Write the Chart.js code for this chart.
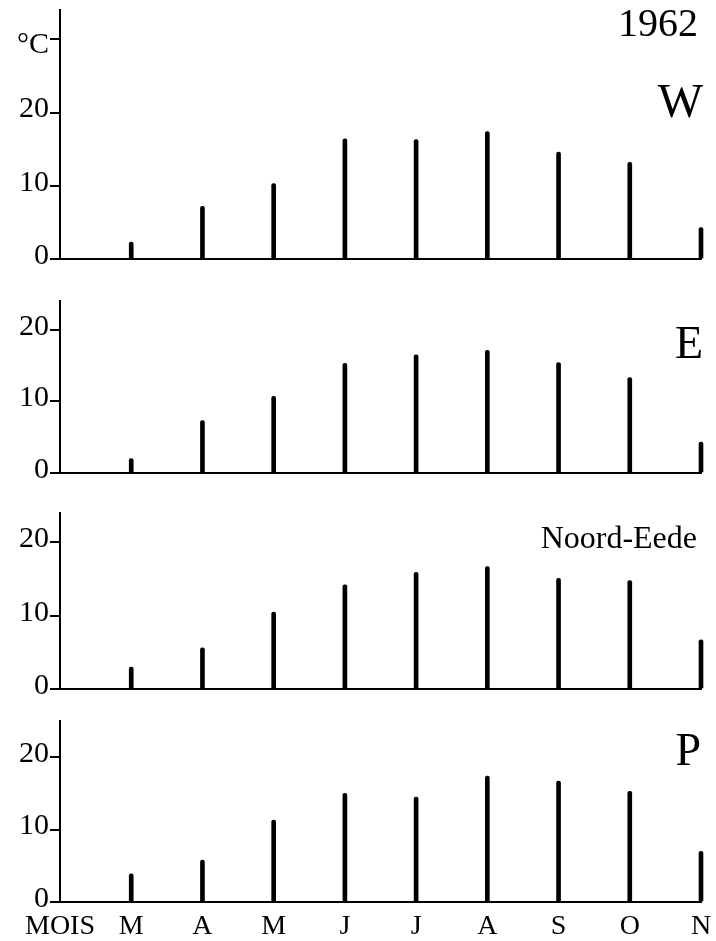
<!DOCTYPE html>
<html>
<head>
<meta charset="utf-8">
<script src="https://cdn.jsdelivr.net/npm/chart.js@4"></script>
<style>
  html, body { margin: 0; padding: 0; background: #fff; }
  #page { position: relative; width: 716px; height: 941px; overflow: hidden; }
  canvas { position: absolute; left: 0; }
</style>
</head>
<body>
<div id="page"></div>
<script>
// mois (premier libellé = origine de l'axe)
const MOIS = ["MOIS", "M", "A", "M", "J", "J", "A", "S", "O", "N"];
const ANNEE = "1962";
const STATIONS = ["W", "E", "Noord-Eede", "P"];

// températures moyennes mensuelles (°C)
const TEMP_W = [null, 2.3, 7.2, 10.3, 16.4, 16.3, 17.4, 14.6, 13.2, 4.3];
const TEMP_E = [null, 2.0, 7.3, 10.7, 15.3, 16.5, 17.1, 15.4, 13.3, 4.3];
const TEMP_NE = [null, 3.0, 5.6, 10.5, 14.2, 15.9, 16.7, 15.1, 14.8, 6.7];
const TEMP_P = [null, 3.9, 5.8, 11.3, 15.0, 14.5, 17.4, 16.7, 15.3, 7.0];

const Y_TICKS = [0, 10, 20];
const Y_TICKS_HAUT = [0, 10, 20, 30];
const Y_MAX = [34, 24, 24, 25];
const UNITE = "°C";

const FONT = '"Liberation Serif", "DejaVu Serif", serif';
const page = document.getElementById("page");

// zones de tracé (px) : haut, bas, police et position du nom
const panneaux = [
  { top: 10, bottom: 259, data: TEMP_W, nom: STATIONS[0], nomSize: 48, nomX: 703, nomY: 117, ticks: Y_TICKS_HAUT, max: Y_MAX[0] },
  { top: 301, bottom: 473, data: TEMP_E, nom: STATIONS[1], nomSize: 46, nomX: 703, nomY: 358, ticks: Y_TICKS, max: Y_MAX[1] },
  { top: 513, bottom: 689, data: TEMP_NE, nom: STATIONS[2], nomSize: 32, nomX: 697, nomY: 548, ticks: Y_TICKS, max: Y_MAX[2] },
  { top: 721, bottom: 902, data: TEMP_P, nom: STATIONS[3], nomSize: 46, nomX: 701, nomY: 765, ticks: Y_TICKS, max: Y_MAX[3] }
];

const textes = {
  id: "textes",
  afterDraw(chart, args, opts) {
    const ctx = chart.ctx;
    opts.items.forEach(t => {
      ctx.save();
      ctx.font = `${t.size}px ${FONT}`;
      ctx.fillStyle = "#000";
      ctx.textAlign = "right";
      ctx.textBaseline = "alphabetic";
      ctx.fillText(t.text, t.x, t.y - opts.offset);
      ctx.restore();
    });
  }
};

panneaux.forEach((p, i) => {
  const dernier = i === panneaux.length - 1;
  const padTop = 10;
  const xH = dernier ? 39 : 20;
  const canvasTop = p.top - padTop;
  const h = (p.bottom - p.top) + padTop + xH;

  const canvas = document.createElement("canvas");
  canvas.width = 716;
  canvas.height = h;
  canvas.style.top = canvasTop + "px";
  page.appendChild(canvas);

  const items = [{ text: p.nom, size: p.nomSize, x: p.nomX, y: p.nomY }];
  if (i === 0) items.push({ text: ANNEE, size: 40, x: 698, y: 36 });

  new Chart(canvas, {
    type: "bar",
    data: {
      labels: MOIS,
      datasets: [{
        data: p.data,
        backgroundColor: "#000",
        barThickness: 4,
        borderRadius: { topLeft: 2, topRight: 2 },
        borderSkipped: "start",
        clip: false
      }]
    },
    options: {
      responsive: false,
      animation: false,
      events: [],
      layout: { padding: { top: padTop, right: 15, bottom: 0, left: 0 } },
      plugins: {
        legend: { display: false },
        tooltip: { enabled: false },
        textes: { items, offset: canvasTop }
      },
      scales: {
        x: {
          type: "category",
          offset: false,
          grid: { display: false },
          border: { display: true, color: "#000", width: 2 },
          ticks: {
            display: dernier,
            color: "#000",
            font: { family: FONT, size: 28 },
            padding: 0,
            maxRotation: 0,
            autoSkip: false
          },
          afterFit: s => {
            s.height = xH;
            s.paddingLeft = 0;
            s.paddingRight = 0;
          }
        },
        y: {
          min: 0,
          max: p.max,
          afterBuildTicks: s => { s.ticks = p.ticks.map(v => ({ value: v })); },
          grid: {
            display: true,
            drawOnChartArea: false,
            drawTicks: true,
            tickLength: 10,
            color: "#000",
            lineWidth: 2
          },
          border: { display: true, color: "#000", width: 2 },
          ticks: {
            color: "#000",
            font: { family: FONT, size: 30, lineHeight: 0.6 },
            padding: 1,
            labelOffset: -3,
            autoSkip: false,
            callback: v => v === 30 ? ["", UNITE] : v
          },
          afterFit: s => {
            s.width = 60;
            s.paddingTop = 0;
            s.paddingBottom = 0;
          }
        }
      }
    },
    plugins: [textes]
  });
});
</script>
</body>
</html>
